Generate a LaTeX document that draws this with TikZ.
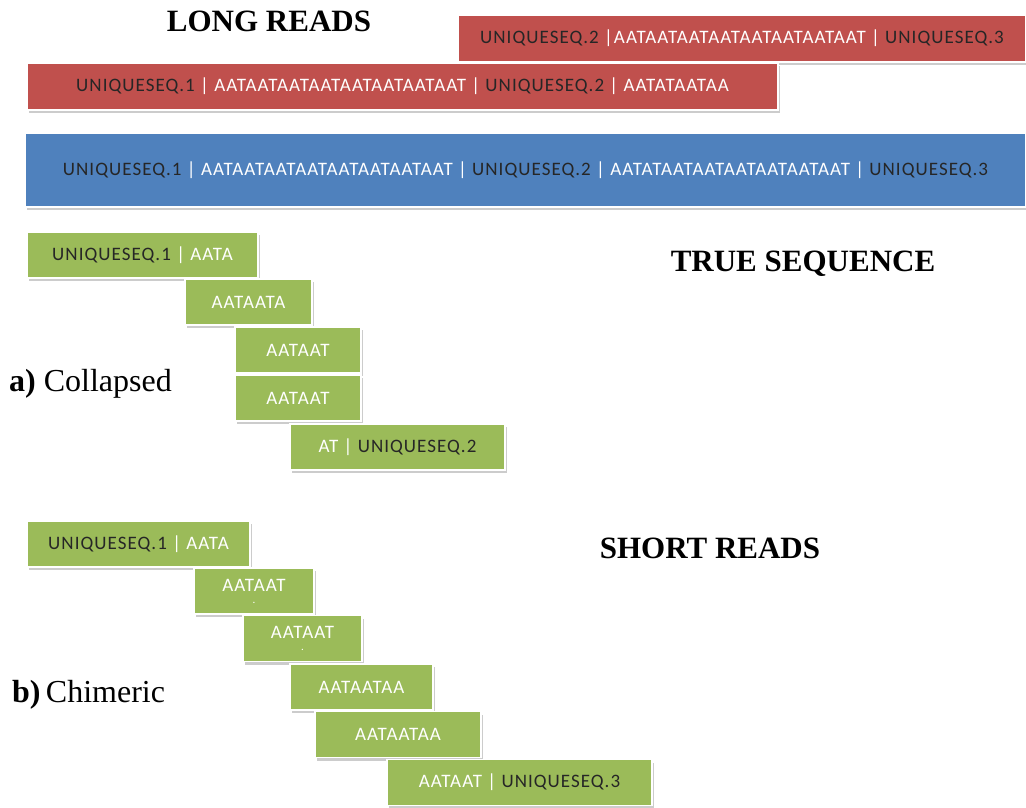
\documentclass[tikz,border=0pt]{standalone}
\usepackage{fontspec}
\setmainfont{Liberation Serif}
\newfontfamily\readfont[LetterSpace=5.5]{Carlito}
\usetikzlibrary{shadows}
\definecolor{readred}{HTML}{C0504D}
\definecolor{readblue}{HTML}{4F81BD}
\definecolor{readgreen}{HTML}{9BBB59}
\newcommand{\uniq}[1]{\textcolor{black!85}{UNIQUESEQ.#1}}

\begin{document}
\begin{tikzpicture}[x=1pt,y=-1pt]
	\tikzset{read/.style={rectangle,draw=white,line width=1.2pt,inner sep=0pt,text=white,
		font=\readfont\fontsize{19}{21}\selectfont,minimum height=46pt,
		drop shadow={shadow xshift=2pt,shadow yshift=-3pt,opacity=0.4}}}
	\tikzset{longread/.style={read,fill=readred,minimum height=47pt}}
	\tikzset{shortread/.style={read,fill=readgreen}}
	\tikzset{heading/.style={font=\bfseries\fontsize{31}{34}\selectfont,anchor=base,inner sep=0pt}}
	\tikzset{case/.style={font=\fontsize{32}{34}\selectfont,anchor=base west,inner sep=0pt}}
	\useasboundingbox (0,0) rectangle (1026,807);

	% long reads
	\node[heading] (longreads) at (269,31) {LONG READS};
	\node[longread,minimum width=568pt] (lr1) at (742,38.5)
		{\uniq{2} |AATAATAATAATAATAATAATAAT | \uniq{3}};
	\node[longread,minimum width=751pt] (lr2) at (402.5,86.5)
		{\uniq{1} | AATAATAATAATAATAATAATAAT | \uniq{2} | AATATAATAA};

	% true sequence
	\node[read,fill=readblue,minimum width=1001pt,minimum height=74pt] (true) at (525.5,170)
		{\uniq{1} | AATAATAATAATAATAATAATAAT | \uniq{2} | AATATAATAATAATAATAATAAT | \uniq{3}};
	\node[heading] (truelabel) at (803,271) {TRUE SEQUENCE};

	% a) collapsed
	\node[case] (collapsed) at (9,391) {\textbf{a)} Collapsed};
	\node[shortread,minimum width=231pt] (a1) at (142.5,255) {\uniq{1} | AATA};
	\node[shortread,minimum width=127pt] (a2) at (248.5,302) {AATAATA};
	\node[shortread,minimum width=126pt] (a3) at (298,350) {AATAAT};
	\node[shortread,minimum width=126pt] (a4) at (298,398) {AATAAT};
	\node[shortread,minimum width=215pt] (a5) at (397.5,447) {AT | \uniq{2}};

	% b) chimeric
	\node[heading] (shortlabel) at (710,558) {SHORT READS};
	\node[case] (chimeric) at (12,702) {\textbf{b)}\,Chimeric};
	\node[shortread,minimum width=223pt] (b1) at (138.5,544) {\uniq{1} | AATA};
	\node[shortread,minimum width=120pt,align=center] (b2) at (254,591)
		{AATAAT\\[-9pt]{\fontsize{11}{11}\selectfont .}};
	\node[shortread,minimum width=119pt,align=center] (b3) at (302.5,638.5)
		{AATAAT\\[-9pt]{\fontsize{11}{11}\selectfont .}};
	\node[shortread,minimum width=143pt] (b4) at (361.5,687) {AATAATAA};
	\node[shortread,minimum width=166pt] (b5) at (398,734.5) {AATAATAA};
	\node[shortread,minimum width=265pt] (b6) at (519.5,782.5) {AATAAT | \uniq{3}};
\end{tikzpicture}
\end{document}
